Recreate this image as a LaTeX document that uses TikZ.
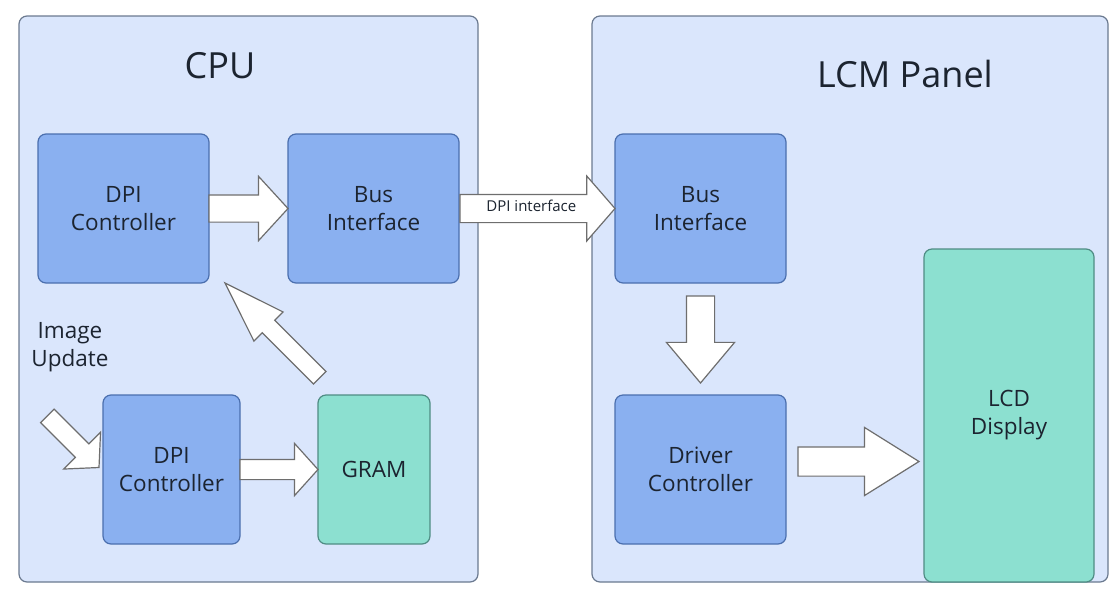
\documentclass[tikz,border=0pt]{standalone}
\usepackage{fontspec}
\setmainfont{Open Sans}
\usepackage{xcolor}
\usepackage{tikz}
\usetikzlibrary{shapes.arrows, positioning, calc}
\definecolor{panelfill}{HTML}{DAE6FC}
\definecolor{panelline}{HTML}{6B7A90}
\definecolor{bluefill}{HTML}{8AB0F0}
\definecolor{blueline}{HTML}{4B6FAE}
\definecolor{tealfill}{HTML}{8CE0D0}
\definecolor{tealline}{HTML}{4F8C84}
\definecolor{arrowline}{HTML}{6E6E6E}
\definecolor{txt}{HTML}{1C2430}
\tikzstyle{panel} = [rectangle, rounded corners=8pt, draw=panelline, fill=panelfill, line width=1.2pt]
\tikzstyle{bluebox} = [rectangle, rounded corners=8pt, minimum width=171pt, minimum height=149pt, outer sep=0pt, align=center, text=txt, draw=blueline, fill=bluefill, line width=1.2pt, font=\fontsize{22.5}{28}\selectfont]
\tikzstyle{tealbox} = [bluebox, draw=tealline, fill=tealfill]
\tikzstyle{title} = [text=txt, font=\fontsize{36}{43}\selectfont]
\tikzstyle{fatarrow} = [single arrow, draw=arrowline, fill=white, line width=1.2pt, inner xsep=0pt, outer sep=0pt, anchor=tip]

\begin{document}
\begin{tikzpicture}[x=1pt, y=-1pt]
    \useasboundingbox (0,0) rectangle (1118,592);
    \node (cpu) [panel, minimum width=459pt, minimum height=566pt] at (248.5,299) {};
    \node (lcm) [panel, minimum width=516pt, minimum height=566pt] at (850,299) {};
    \node (cputitle) [title] at (220,66) {CPU};
    \node (lcmtitle) [title] at (905,74) {LCM Panel};

    \node (dpictrl) [bluebox] at (123.5,208.5) {DPI\\Controller};
    \node (cpubus) [bluebox, right=79pt of dpictrl] {Bus\\Interface};
    \node (lowctrl) [bluebox, minimum width=137pt, below=112pt of dpictrl, xshift=48pt] {DPI\\Controller};
    \node (gram) [tealbox, minimum width=112pt, right=78pt of lowctrl] {GRAM};
    \node (imgupd) [text=txt, align=center, font=\fontsize{22.5}{28}\selectfont] at (70,347) {Image\\Update};

    \node (lcmbus) [bluebox, right=156pt of cpubus] {Bus\\Interface};
    \node (drv) [bluebox, below=112pt of lcmbus] {Driver\\Controller};
    \node (lcd) [tealbox, minimum width=170pt, minimum height=333pt] at (1009,415.5) {LCD\\Display};

    \node (a1) [fatarrow, minimum height=79pt, inner ysep=13pt, single arrow head extend=18.5pt, single arrow tip angle=95] at (cpubus.west) {};
    \node (a2) [fatarrow, minimum height=155pt, inner ysep=8.5pt, text height=8pt, text depth=2pt, single arrow head extend=18.5pt, single arrow tip angle=98, text=txt, font=\fontsize{15}{18}\selectfont] at (lcmbus.west) {DPI interface};
    \node (a3) [fatarrow, rotate=135, minimum height=134pt, inner ysep=8.25pt, single arrow head extend=11.75pt, single arrow tip angle=37] at ([xshift=16pt]dpictrl.south east) {};
    \node (a4) [fatarrow, rotate=-45, minimum height=73pt, inner ysep=9pt, single arrow head extend=16.5pt, single arrow tip angle=95] at ([xshift=-4pt, yshift=2pt]lowctrl.west) {};
    \node (a5) [fatarrow, minimum height=78pt, inner ysep=9.5pt, single arrow head extend=16pt, single arrow tip angle=96] at (gram.west) {};
    \node (a6) [fatarrow, rotate=-90, minimum height=87pt, inner ysep=13.5pt, single arrow head extend=20pt, single arrow tip angle=80] at ([yshift=12pt]drv.north) {};
    \node (a7) [fatarrow, minimum height=121pt, inner ysep=14pt, single arrow head extend=19.5pt, single arrow tip angle=64] at ($(drv.east -| lcd.west)+(-5,-8)$) {};
  \end{tikzpicture}
\end{document}
